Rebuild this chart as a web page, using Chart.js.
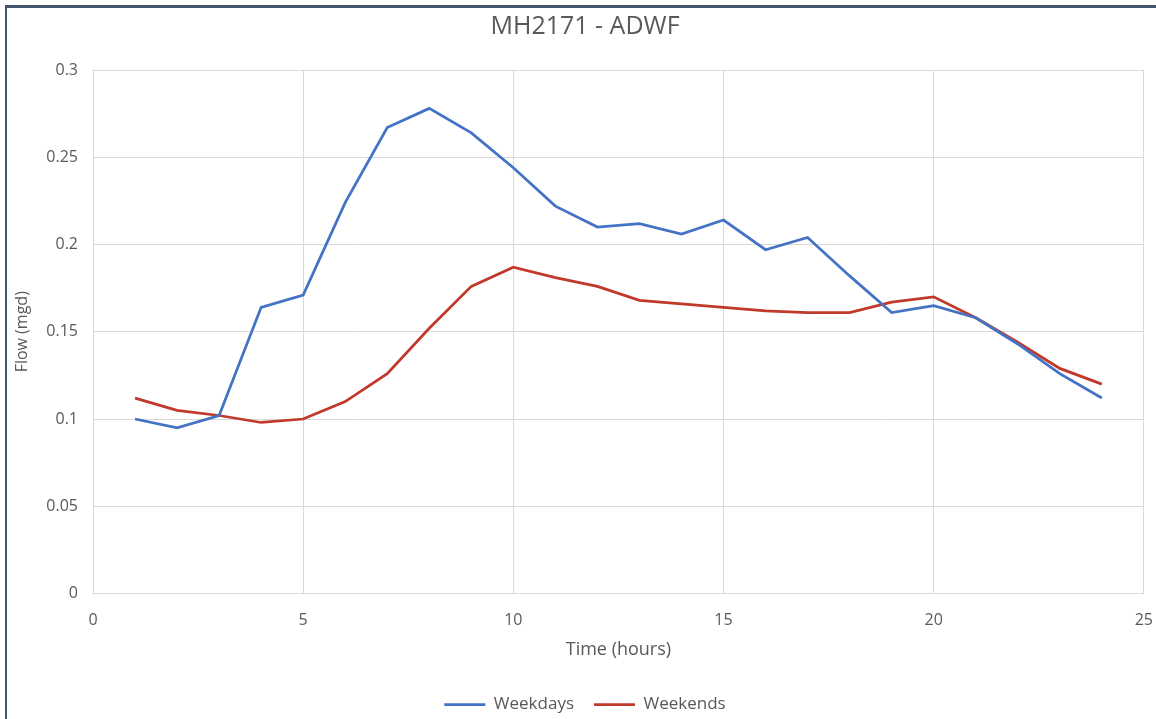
<!DOCTYPE html>
<html>

<head>
  <title>MH2171 - ADWF</title>
  <script src="https://cdn.jsdelivr.net/npm/chart.js@4.4.0/dist/chart.umd.min.js"></script>
  <style>
    body { margin: 0; background: #fff; overflow: hidden; }
    #frame {
      position: absolute; left: 5px; top: 5px; width: 1200px; height: 800px;
      border-left: 2px solid #44546a; border-top: 3px solid #44546a;
    }
    #wrap { position: absolute; left: 0; top: 0; width: 1170px; height: 723px; }
  </style>
</head>

<body>
  <div id="frame"></div>
  <div id="wrap"><canvas id="flowChart"></canvas></div>
  <script>
    // hourly ADWF flow
    const hours = [1, 2, 3, 4, 5, 6, 7, 8, 9, 10, 11, 12, 13, 14, 15, 16, 17, 18, 19, 20, 21, 22, 23, 24];
    const weekdays = [0.100, 0.095, 0.102, 0.164, 0.171, 0.224, 0.267, 0.278, 0.264, 0.244, 0.222, 0.210,
      0.212, 0.206, 0.214, 0.197, 0.204, 0.182, 0.161, 0.165, 0.158, 0.143, 0.126, 0.112];
    const weekends = [0.112, 0.105, 0.102, 0.098, 0.100, 0.110, 0.126, 0.152, 0.176, 0.187, 0.181, 0.176,
      0.168, 0.166, 0.164, 0.162, 0.161, 0.161, 0.167, 0.170, 0.158, 0.144, 0.129, 0.120];

    const textColor = '#595959';
    const gridColor = '#d9d9d9';
    const fontFamily = '"Open Sans", Lato, sans-serif';

    function toPoints(values) {
      return hours.map((h, i) => ({ x: h, y: values[i] }));
    }

    const ctx = document.getElementById('flowChart').getContext('2d');
    const flowChart = new Chart(ctx, {
      type: 'line',
      data: {
        datasets: [{
          label: 'Weekdays',
          data: toPoints(weekdays),
          borderColor: '#4472c4',
          backgroundColor: '#4472c4',
          borderWidth: 2.75,
          pointRadius: 0,
          tension: 0
        }, {
          label: 'Weekends',
          data: toPoints(weekends),
          borderColor: '#c0392b',
          backgroundColor: '#c0392b',
          borderWidth: 2.75,
          pointRadius: 0,
          tension: 0
        }]
      },
      options: {
        responsive: true,
        maintainAspectRatio: false,
        animation: false,
        layout: { padding: 0 },
        plugins: {
          title: {
            display: true,
            text: 'MH2171 - ADWF',
            color: textColor,
            font: { family: fontFamily, size: 25, weight: 'normal' },
            padding: { top: 12, bottom: 28 }
          },
          legend: {
            position: 'bottom',
            labels: {
              color: textColor,
              font: { family: fontFamily, size: 17 },
              usePointStyle: true,
              pointStyle: 'line',
              pointStyleWidth: 41,
              padding: 20
            }
          },
          tooltip: { enabled: false }
        },
        scales: {
          x: {
            type: 'linear',
            min: 0,
            max: 25,
            ticks: { stepSize: 5, color: textColor, font: { family: fontFamily, size: 16 }, padding: 17 },
            grid: { color: gridColor, drawTicks: false },
            border: { color: gridColor },
            title: {
              display: true,
              text: 'Time (hours)',
              color: textColor,
              font: { family: fontFamily, size: 18 },
              padding: { top: 4, bottom: 15 }
            },
            afterFit: scale => { scale.height = 82.5; }
          },
          y: {
            min: 0,
            max: 0.3,
            ticks: {
              stepSize: 0.05,
              color: textColor,
              font: { family: fontFamily, size: 16 },
              padding: 15,
              callback: v => String(parseFloat(v.toFixed(2)))
            },
            grid: { color: gridColor, drawTicks: false },
            border: { color: gridColor },
            title: {
              display: true,
              text: 'Flow (mgd)',
              color: textColor,
              font: { family: fontFamily, size: 16 },
              padding: { top: 13, bottom: 4 }
            },
            afterFit: scale => { scale.width = 93; }
          }
        }
      }
    });
  </script>
</body>

</html>
